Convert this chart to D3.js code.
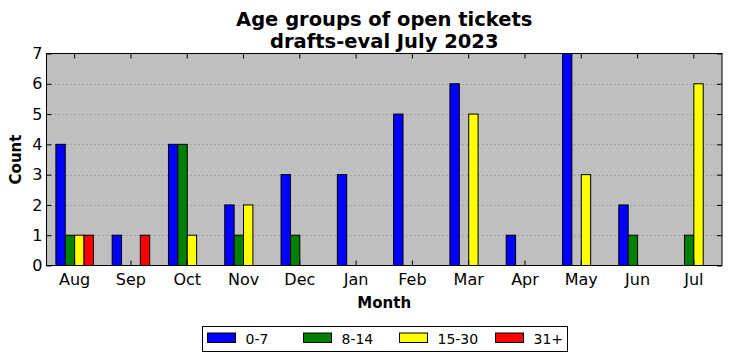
<html>
<head>
<title>Age groups of open tickets</title>
<style>
  body { margin: 0; background: #fff; }
  text { font-family: "DejaVu Sans", sans-serif; }
</style>
</head>
<body>
<svg id="container" width="732" height="361"></svg>
<script src="https://d3js.org/d3.v7.min.js"></script>
<script>
  // data
  let months = ["Aug", "Sep", "Oct", "Nov", "Dec", "Jan", "Feb", "Mar", "Apr", "May", "Jun", "Jul"]
  let groups = ["0-7", "8-14", "15-30", "31+"]
  let colors = ["#0000ff", "#008000", "#ffff00", "#ff0000"]
  let age0to7   = [4, 1, 4, 2, 3, 3, 5, 6, 1, 7, 2, 0]
  let age8to14  = [1, 0, 4, 1, 1, 0, 0, 0, 0, 0, 1, 1]
  let age15to30 = [1, 0, 1, 2, 0, 0, 0, 5, 0, 3, 0, 6]
  let age31plus = [1, 1, 0, 0, 0, 0, 0, 0, 0, 0, 0, 0]
  let yTicks = [0, 1, 2, 3, 4, 5, 6, 7]

  let series = [age0to7, age8to14, age15to30, age31plus]

  let svg = d3.select("#container")
  let plotL = 46.5, plotR = 722, plotT = 53.5, plotB = 265.5

  let x = d3.scaleBand().domain(months).range([plotL, plotR]).padding(0)
  let step = x.step()
  let inner = d3.scaleBand().domain(groups).range([step / 6, step * 5 / 6]).padding(0)
  let y = d3.scaleLinear().domain([0, 7]).range([plotB, plotT])

  // plot background
  svg.append("rect")
     .attr("x", plotL).attr("y", plotT)
     .attr("width", plotR - plotL).attr("height", plotB - plotT)
     .attr("fill", "#bfbfbf")

  // grid
  svg.selectAll(".grid")
     .data(yTicks.slice(1, -1))
     .enter()
     .append("line")
     .attr("x1", plotL).attr("x2", plotR)
     .attr("y1", d => Math.round(y(d)) + 0.5).attr("y2", d => Math.round(y(d)) + 0.5)
     .attr("stroke", "#7f7f7f")
     .attr("stroke-width", 0.8)
     .attr("stroke-dasharray", "1,3")

  // bars
  series.forEach((vals, k) => {
      svg.append("g").selectAll("rect")
         .data(vals)
         .enter()
         .append("rect")
         .attr("x", (d, i) => x(months[i]) + inner(groups[k]))
         .attr("width", inner.bandwidth())
         .attr("y", d => y(d))
         .attr("height", d => y(0) - y(d))
         .attr("fill", colors[k])
         .attr("stroke", "#000")
         .attr("stroke-width", 1)
  })

  // axes (ticks inside, on all four sides)
  let xAxisB = d3.axisBottom(x).tickSizeInner(-5).tickSizeOuter(0).tickPadding(8)
  let xAxisT = d3.axisTop(x).tickSizeInner(-5).tickSizeOuter(0).tickFormat("")
  let yAxisL = d3.axisLeft(y).tickValues(yTicks).tickSizeInner(-5).tickSizeOuter(0).tickPadding(4).tickFormat(d3.format("d"))
  let yAxisR = d3.axisRight(y).tickValues(yTicks).tickSizeInner(-5).tickSizeOuter(0).tickFormat("")

  let axes = [
      svg.append("g").attr("transform", `translate(0,${plotB})`).call(xAxisB),
      svg.append("g").attr("transform", `translate(0,${plotT})`).call(xAxisT),
      svg.append("g").attr("transform", `translate(${plotL},0)`).call(yAxisL),
      svg.append("g").attr("transform", `translate(${plotR},0)`).call(yAxisR)
  ]
  axes.forEach(a => {
      a.select(".domain").remove()
      a.selectAll("line").attr("stroke", "#000")
      a.selectAll("text").attr("font-family", "DejaVu Sans").attr("font-size", 16).attr("fill", "#000")
  })

  // frame
  svg.append("rect")
     .attr("x", plotL).attr("y", plotT)
     .attr("width", plotR - plotL).attr("height", plotB - plotT)
     .attr("fill", "none").attr("stroke", "#000").attr("stroke-width", 1)

  // titles
  let cx = (plotL + plotR) / 2
  svg.append("text").attr("x", cx).attr("y", 26).attr("text-anchor", "middle")
     .attr("font-size", 19.5).attr("font-weight", "bold").text("Age groups of open tickets")
  svg.append("text").attr("x", cx).attr("y", 48).attr("text-anchor", "middle")
     .attr("font-size", 19.5).attr("font-weight", "bold").text("drafts-eval July 2023")
  svg.append("text").attr("x", cx).attr("y", 308).attr("text-anchor", "middle")
     .attr("font-size", 15).attr("font-weight", "bold").text("Month")
  svg.append("text").attr("transform", `translate(21,${(plotT + plotB) / 2}) rotate(-90)`)
     .attr("text-anchor", "middle")
     .attr("font-size", 15).attr("font-weight", "bold").text("Count")

  // legend
  let legend = svg.append("g")
  legend.append("rect")
        .attr("x", 202.5).attr("y", 326.5).attr("width", 365).attr("height", 25)
        .attr("fill", "#fff").attr("stroke", "#000")
  let legX = d3.scalePoint().domain(groups).range([207.5, 495.5])
  let items = legend.selectAll(".item").data(groups).enter().append("g")
  items.append("rect")
       .attr("x", d => legX(d)).attr("y", 333)
       .attr("width", 28).attr("height", 9.5)
       .attr("fill", (d, i) => colors[i]).attr("stroke", "#000")
  items.append("text")
       .attr("x", d => legX(d) + 38).attr("y", 343.5)
       .attr("font-size", 14).text(d => d)
</script>
</body>
</html>
